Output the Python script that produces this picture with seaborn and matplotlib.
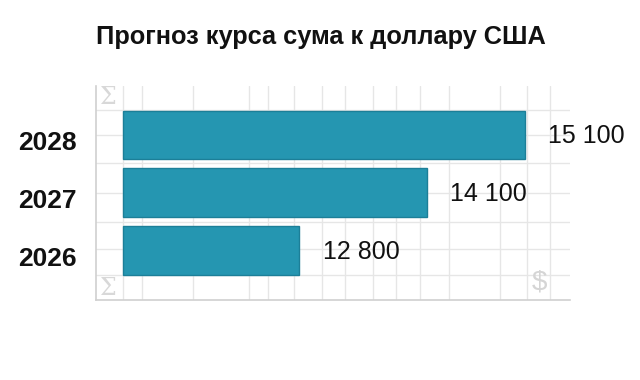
import matplotlib
matplotlib.use("Agg")
import matplotlib.pyplot as plt
import matplotlib.transforms as mtransforms
import seaborn as sns
import pandas as pd

# Data
years = ["2028", "2027", "2026"]
rates = [15100, 14100, 12800]
base = 11000  # bars start here, not at zero
title = "Прогноз курса сума к доллару США"

# Decorative spreadsheet-like background grid (axes fractions)
grid_x = [(p - 96) / 474 for p in [123, 142, 193, 249, 268, 294, 322, 345, 373,
                                    396, 420, 449, 500, 527, 550]]
grid_y = [(300 - p) / 214 for p in [110, 135, 163, 193, 222, 249, 275]]

df = pd.DataFrame({"year": years, "rate": rates})

sns.set_style("white")
plt.rcParams["font.family"] = ["Liberation Sans", "DejaVu Sans"]

fig = plt.figure(figsize=(6.4, 3.8), dpi=100)
ax = fig.add_axes([96 / 640, 80 / 380, 474 / 640, 214 / 380])

# background grid
for gx in grid_x:
    ax.plot([gx, gx], [0, 1], color="#e6e6e6", lw=1, zorder=0, transform=ax.transAxes)
for gy in grid_y:
    ax.plot([0, 1], [gy, gy], color="#e6e6e6", lw=1, zorder=0, transform=ax.transAxes)

ax.text(0.026, 0.944, "Σ", transform=ax.transAxes, color="#d8d8d8", fontsize=17,
        ha="center", va="center", family="DejaVu Serif")
ax.text(0.026, 0.056, "Σ", transform=ax.transAxes, color="#d8d8d8", fontsize=17,
        ha="center", va="center", family="DejaVu Serif")
ax.text(0.935, 0.084, "$", transform=ax.transAxes, color="#d5d5d5", fontsize=20,
        ha="center", va="center")

sns.barplot(data=df, x="rate", y="year", order=years, orient="h", ax=ax,
            color="#2596b1", edgecolor="#1c7f98", linewidth=1, width=0.84,
            saturation=1, zorder=2)

# move bar bases to the axis start value
for patch, v in zip(ax.patches, rates):
    patch.set_x(base)
    patch.set_width(v - base)

ax.set_xlim(10725, 15561)
ax.set_ylim(2.86, -0.845)

for i, v in enumerate(rates):
    ax.annotate(f"{v:,}".replace(",", " "), (v, i), xytext=(17, -1),
                textcoords="offset points", va="center", ha="left",
                fontsize=18, color="#111111", annotation_clip=False)

ax.set_xticks([])
ax.set_xlabel("")
ax.set_ylabel("")
ax.tick_params(axis="y", length=0, pad=14)
shift = mtransforms.ScaledTranslation(0, -6 / 100, fig.dpi_scale_trans)
for lbl in ax.get_yticklabels():
    lbl.set_fontsize(19)
    lbl.set_fontweight("bold")
    lbl.set_color("#111111")
    lbl.set_transform(lbl.get_transform() + shift)

for s in ["top", "right"]:
    ax.spines[s].set_visible(False)
for s in ["left", "bottom"]:
    ax.spines[s].set_color("#d0d0d0")
    ax.spines[s].set_linewidth(1.2)

fig.text(0.502, 1 - 37 / 380, title, ha="center", va="center",
         fontsize=18.3, fontweight="bold", color="#111111")

fig.savefig("out.png", dpi=100, facecolor="white")
